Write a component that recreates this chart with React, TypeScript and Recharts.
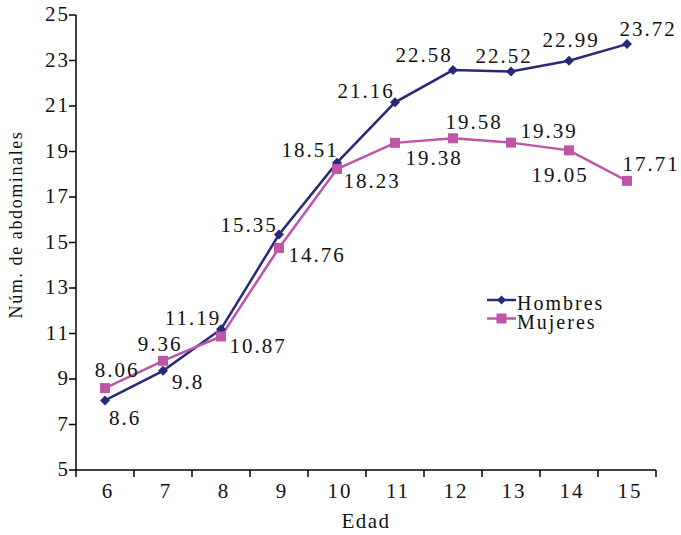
import React from "react";
import { LineChart, Line, XAxis, YAxis, Legend } from "recharts";

const ages = [6, 7, 8, 9, 10, 11, 12, 13, 14, 15];
const hombres = [8.06, 9.36, 11.19, 15.35, 18.51, 21.16, 22.58, 22.52, 22.99, 23.72];
const mujeres = [8.6, 9.8, 10.87, 14.76, 18.23, 19.38, 19.58, 19.39, 19.05, 17.71];
const yTicks = [5, 7, 9, 11, 13, 15, 17, 19, 21, 23, 25];
const xTicks = [5.5, 6, 6.5, 7, 7.5, 8, 8.5, 9, 9.5, 10, 10.5, 11, 11.5, 12, 12.5, 13, 13.5, 14, 14.5, 15, 15.5];

// label offsets (styling only)
const hOffsets = [[11, -31], [-4, -27], [-29, -12], [-31, -10], [-28, -13], [-30, -12], [-30, -15], [-8, -16], [1, -21], [20, -15]];
const mOffsets = [[19, 30], [24, 21], [36, 9], [37, 7], [34, 12], [38, 15], [20, -17], [37, -12], [-10, 24], [23, -17]];

const data = ages.map((a, i) => ({ age: a, Hombres: hombres[i], Mujeres: mujeres[i] }));

const FONT = "'Liberation Serif', 'Times New Roman', serif";
const NAVY = "#2a2978";
const MAG = "#bd55a9";

const XTick = (props: any) => {
  const { x, y, payload } = props;
  const v = payload.value;
  if (Number.isInteger(v)) {
    return (
      <text x={x + 3} y={y} dy={21} textAnchor="middle" fontFamily={FONT} fontSize={21} letterSpacing={2} fill="#111">
        {v}
      </text>
    );
  }
  return <line x1={x} x2={x} y1={y - 7} y2={y} stroke="#000" strokeWidth={1.5} />;
};

const YTick = (props: any) => {
  const { x, y, payload } = props;
  return (
    <text x={x + 1} y={y} dy="0.3em" textAnchor="end" fontFamily={FONT} fontSize={21} letterSpacing={2} fill="#111">
      {payload.value}
    </text>
  );
};

const Diamond = (props: any) => {
  const { cx, cy } = props;
  if (cx == null || cy == null) return null;
  const r = 5;
  return <polygon key={`d${props.index}`} points={`${cx},${cy - r} ${cx + r},${cy} ${cx},${cy + r} ${cx - r},${cy}`} fill={NAVY} />;
};

const Square = (props: any) => {
  const { cx, cy } = props;
  if (cx == null || cy == null) return null;
  const r = 5;
  return <rect key={`s${props.index}`} x={cx - r} y={cy - r} width={2 * r} height={2 * r} fill={MAG} />;
};

const makeLabel = (offsets: number[][], key: string) => (props: any) => {
  const { x, y, value, index } = props;
  const o = offsets[index] || [0, 0];
  return (
    <text key={`${key}${index}`} x={x + o[0] + 1} y={y + o[1]} dy="0.35em" textAnchor="middle" fontFamily={FONT} fontSize={21} letterSpacing={2} fill="#111">
      {value}
    </text>
  );
};

const LegendContent = () => {
  const items = [
    { name: "Hombres", color: NAVY, shape: "diamond" },
    { name: "Mujeres", color: MAG, shape: "square" },
  ];
  return (
    <svg width={130} height={40} style={{ display: "block", overflow: "visible" }}>
      {items.map((it, i) => {
        const cy = 9 + i * 18.5;
        return (
          <g key={it.name}>
            <line x1={0} x2={29} y1={cy} y2={cy} stroke={it.color} strokeWidth={2.5} />
            {it.shape === "diamond" ? (
              <polygon points={`14.5,${cy - 4.5} 19,${cy} 14.5,${cy + 4.5} 10,${cy}`} fill={it.color} />
            ) : (
              <rect x={9.5} y={cy - 5} width={10} height={10} fill={it.color} />
            )}
            <text x={30} y={cy + 10} fontFamily={FONT} fontSize={20} letterSpacing={2} fill="#111">
              {it.name}
            </text>
          </g>
        );
      })}
    </svg>
  );
};

export default function App() {
  return (
    <div style={{ position: "absolute", left: 0, top: 0 }}>
      <LineChart width={681} height={535} data={data} margin={{ top: 15, right: 25, left: 0, bottom: 0 }}>
        <XAxis
          dataKey="age"
          type="number"
          domain={[5.5, 15.5]}
          ticks={xTicks}
          interval={0}
          allowDecimals
          height={65}
          tickSize={7}
          tickMargin={0}
          tickLine={false}
          axisLine={{ stroke: "#000", strokeWidth: 1.5 }}
          tick={<XTick />}
          label={{ value: "Edad", position: "insideBottom", offset: 7, fontFamily: FONT, fontSize: 21, letterSpacing: 1.5, fill: "#111" }}
        />
        <YAxis
          type="number"
          domain={[5, 25]}
          ticks={yTicks}
          interval={0}
          width={76}
          tickSize={7}
          tickMargin={0}
          axisLine={{ stroke: "#000", strokeWidth: 1.5 }}
          tickLine={{ stroke: "#000", strokeWidth: 1.5 }}
          tick={<YTick />}
          label={{
            value: "Núm. de abdominales",
            angle: -90,
            position: "insideLeft",
            offset: 0,
            content: (p: any) => {
              const vb = p.viewBox || {};
              const cy = vb.y + vb.height / 2 - 18;
              return (
                <text x={22} y={cy} transform={`rotate(-90 22 ${cy})`} textAnchor="middle" fontFamily={FONT} fontSize={18} letterSpacing={1.6} fill="#111">
                  Núm. de abdominales
                </text>
              );
            },
          }}
        />
        <Legend
          content={<LegendContent />}
          layout="vertical"
          verticalAlign="middle"
          align="center"
          wrapperStyle={{ left: 487, top: 291, width: "auto", height: "auto" }}
        />
        <Line
          dataKey="Hombres"
          stroke={NAVY}
          strokeWidth={2.5}
          dot={Diamond}
          activeDot={false}
          label={makeLabel(hOffsets, "h")}
          isAnimationActive={false}
        />
        <Line
          dataKey="Mujeres"
          stroke={MAG}
          strokeWidth={2.5}
          dot={Square}
          activeDot={false}
          label={makeLabel(mOffsets, "m")}
          isAnimationActive={false}
        />
      </LineChart>
    </div>
  );
}
